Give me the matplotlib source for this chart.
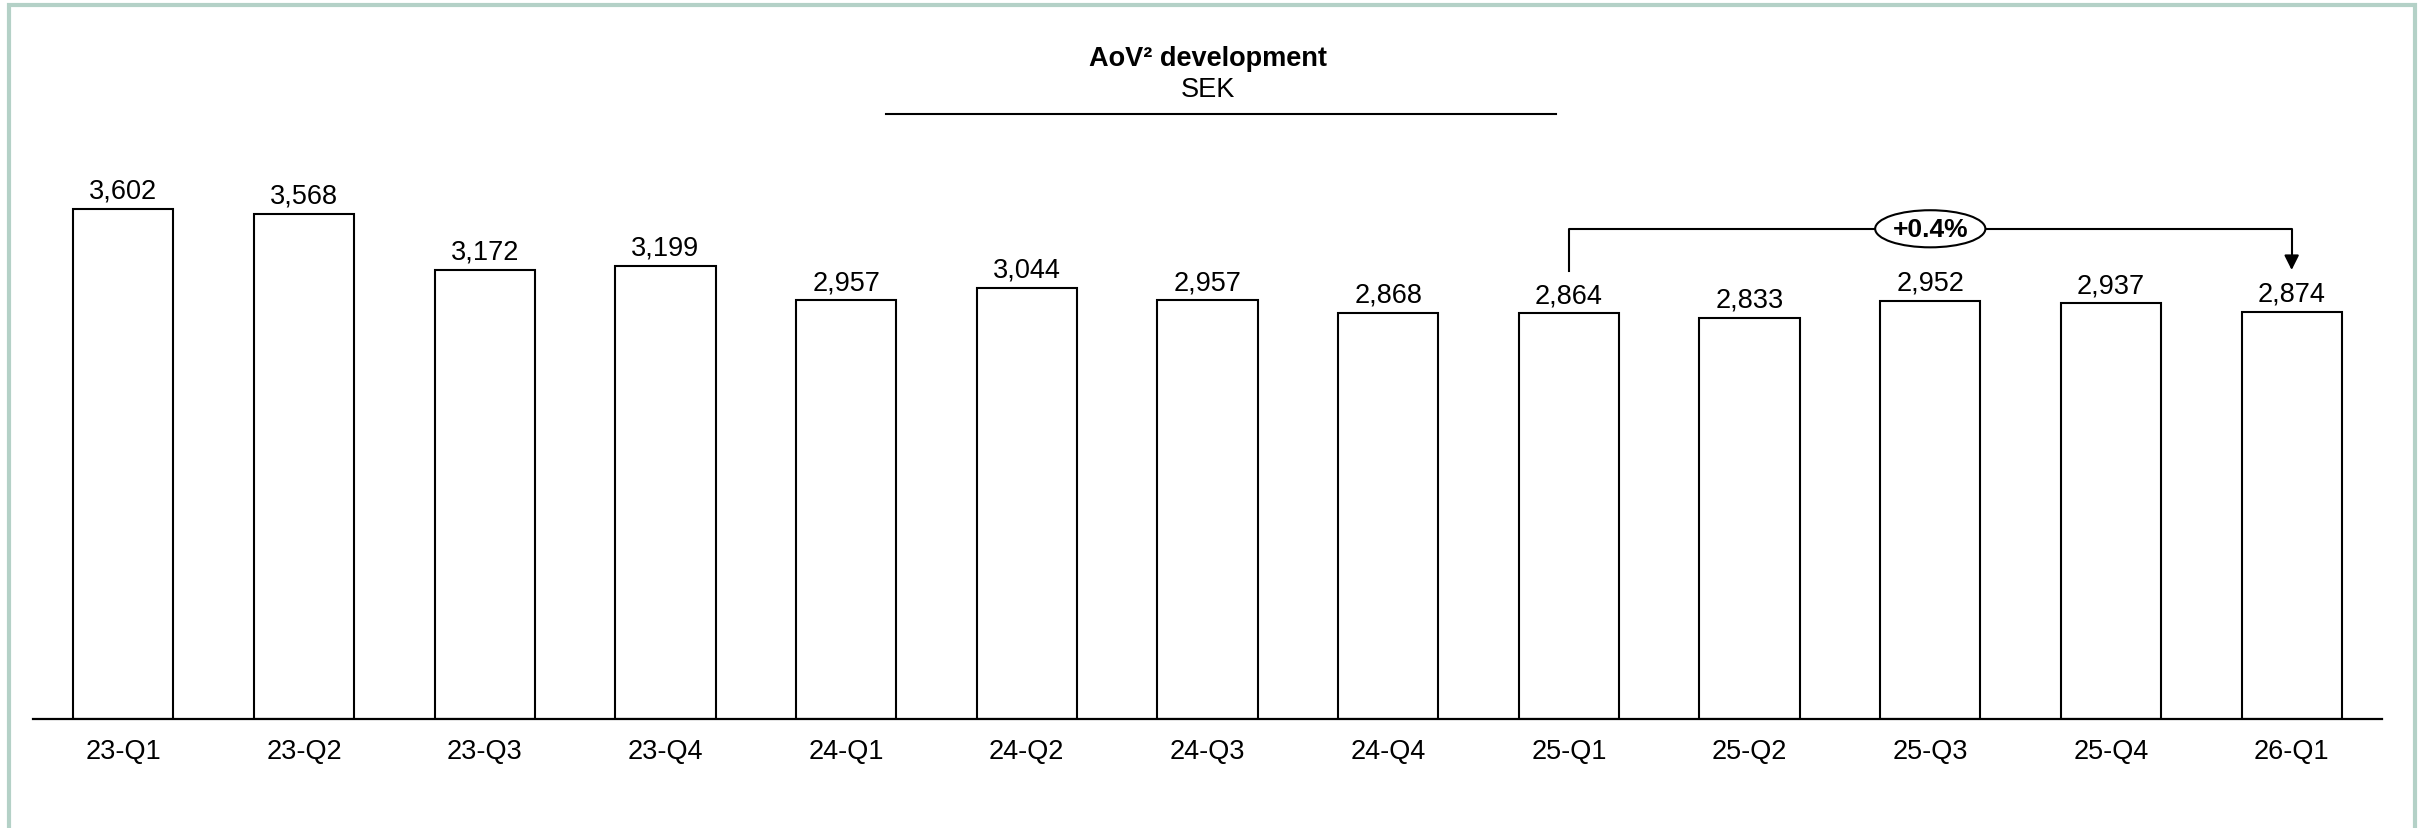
import numpy as np
import matplotlib.pyplot as plt
from matplotlib.patches import Ellipse, Rectangle

plt.rcParams['font.family'] = ['Liberation Sans', 'DejaVu Sans']

quarters = ['23-Q1', '23-Q2', '23-Q3', '23-Q4', '24-Q1', '24-Q2', '24-Q3',
            '24-Q4', '25-Q1', '25-Q2', '25-Q3', '25-Q4', '26-Q1']
aov = [3602, 3568, 3172, 3199, 2957, 3044, 2957, 2868, 2864, 2833, 2952, 2937, 2874]
yoy_change = 0.4  # percent, 25-Q1 -> 26-Q1

W, H, DPI = 2428, 829, 100
fig = plt.figure(figsize=(W / DPI, H / DPI), dpi=DPI)

# axes: baseline at 720 px from top, x from 33 to 2382 px
ax = fig.add_axes([33 / W, 109 / H, 2349 / W, 720 / H])
x = np.arange(len(quarters))
ax.bar(x, aov, width=0.555, facecolor='white', edgecolor='black', linewidth=1.5, zorder=2)
ax.set_xlim(-0.5, len(quarters) - 0.5)
ax.set_ylim(0, 720 / 0.1416)

for i, v in enumerate(aov):
    ax.annotate(f'{v:,}', (i, v), xytext=(0, 8), textcoords='offset points',
                ha='center', va='baseline', fontsize=19.5)

for s in ['top', 'right', 'left']:
    ax.spines[s].set_visible(False)
ax.spines['bottom'].set_linewidth(1.6)
ax.set_yticks([])
ax.set_xticks(x)
ax.set_xticklabels(quarters, fontsize=19.5)
ax.tick_params(axis='x', length=0, pad=14)

# change bracket from 25-Q1 to 26-Q1
i0, i1 = 8, 12
y_start = aov[i0] + 300
y_end = aov[i1] + 297
y_top = max(aov[i0:i1 + 1]) + 510
ax.plot([i0, i0, i1, i1], [y_start, y_top, y_top, y_end + 80], color='black', lw=1.5, zorder=3)
ax.annotate('', xy=(i1, y_end), xytext=(i1, y_end + 90),
            arrowprops=dict(arrowstyle='-|>', color='black', lw=1.5, mutation_scale=22,
                            shrinkA=0, shrinkB=0))
xm = (i0 + i1) / 2
ax.add_patch(Ellipse((xm, y_top), 0.61, 262, facecolor='white', edgecolor='black', lw=1.5, zorder=4))
ax.text(xm, y_top, f'{yoy_change:+.1f}%', ha='center', va='center', fontsize=19,
        fontweight='bold', zorder=5)

# title block
fig.text(1208 / W, 1 - 59 / H, 'AoV² development', ha='center', va='center',
         fontsize=19.5, fontweight='bold')
fig.text(1208 / W, 1 - 90 / H, 'SEK', ha='center', va='center', fontsize=19.5)
fig.add_artist(plt.Line2D([886 / W, 1556 / W], [1 - 115 / H, 1 - 115 / H],
                          color='black', lw=1.5))

# frame
fig.add_artist(Rectangle((9 / W, -0.05), 2406 / W, 1.05 - 6 / H, transform=fig.transFigure,
                         fill=False, edgecolor='#b4d1c7', lw=3))

fig.savefig('out.png', dpi=DPI)
